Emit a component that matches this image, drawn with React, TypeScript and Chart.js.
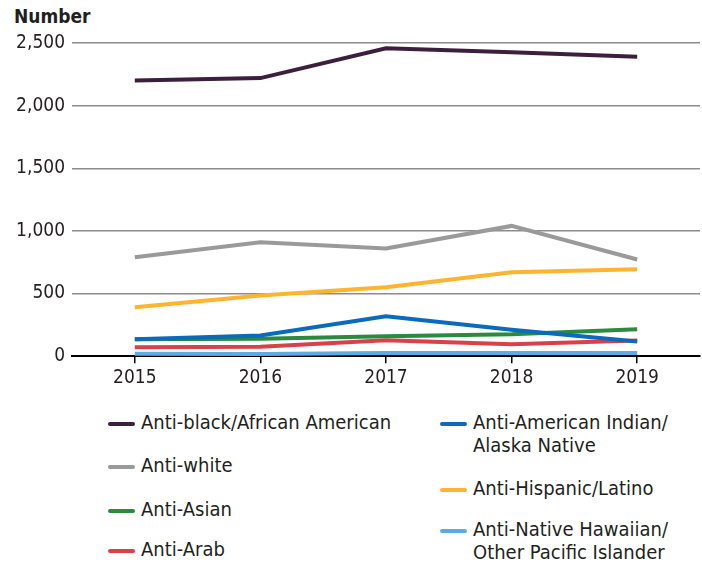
import React, { useEffect, useRef } from "react";
import { Chart, registerables } from "chart.js";

Chart.register(...registerables);

const years = ["2015", "2016", "2017", "2018", "2019"];
const antiBlack = [2201, 2220, 2458, 2426, 2391];
const antiWhite = [790, 910, 860, 1040, 772];
const antiHispanic = [390, 485, 550, 670, 695];
const antiAmIndian = [135, 165, 318, 212, 118];
const antiAsian = [136, 140, 160, 175, 215];
const antiArab = [72, 75, 128, 96, 125];
const antiHawaiian = [20, 18, 26, 26, 26];
const yTicks = [0, 500, 1000, 1500, 2000, 2500];

const FONT = "'Liberation Sans Narrow', 'DejaVu Sans Condensed', 'Roboto Condensed', 'Liberation Sans', sans-serif";

const series = [
  { label: "Anti-black/African American", data: antiBlack, color: "#3c1f3c" },
  { label: "Anti-white", data: antiWhite, color: "#9a9a9a" },
  { label: "Anti-Hispanic/Latino", data: antiHispanic, color: "#fdb52f" },
  { label: "Anti-American Indian/\nAlaska Native", data: antiAmIndian, color: "#0a6bbd" },
  { label: "Anti-Asian", data: antiAsian, color: "#2a8a3e" },
  { label: "Anti-Arab", data: antiArab, color: "#d8414a" },
  { label: "Anti-Native Hawaiian/\nOther Pacific Islander", data: antiHawaiian, color: "#5aace2" },
];

const legendLeft = [0, 1, 4, 5];
const legendRight = [3, 2, 6];

function LegendItem({ idx, top, left }: { idx: number; top: number; left: number }) {
  const s = series[idx];
  return (
    <div style={{ position: "absolute", left, top, display: "flex", alignItems: "flex-start" }}>
      <div style={{ width: 27, height: 4, borderRadius: 2, background: s.color, marginTop: 11, marginRight: 6 }} />
      <div style={{ fontFamily: FONT, fontSize: 20, lineHeight: "23px", color: "#231f20", whiteSpace: "pre" }}>{s.label}</div>
    </div>
  );
}

export default function App() {
  const ref = useRef<HTMLCanvasElement | null>(null);
  useEffect(() => {
    document.body.style.margin = "0";
    const ctx = ref.current!;
    const chart = new Chart(ctx, {
      type: "line",
      data: {
        labels: years,
        datasets: series.map((s) => ({
          label: s.label,
          data: s.data,
          borderColor: s.color,
          backgroundColor: s.color,
          borderWidth: 4,
          pointRadius: 0,
          tension: 0,
          fill: false,
        })),
      },
      options: {
        animation: false,
        responsive: false,
        maintainAspectRatio: false,
        layout: { padding: { top: 43, right: 2, left: 0, bottom: 0 } },
        plugins: { legend: { display: false }, tooltip: { enabled: false } },
        scales: {
          x: {
            type: "category",
            offset: true,
            grid: {
              offset: false,
              drawOnChartArea: false,
              drawTicks: true,
              tickLength: 7,
              color: "#000",
              lineWidth: 1.5,
            },
            border: { display: true, color: "#000", width: 2 },
            ticks: { color: "#231f20", font: { family: FONT, size: 19 }, padding: 3 },
          },
          y: {
            min: 0,
            max: 2500,
            afterFit: (scale: any) => {
              scale.width = 72;
            },
            afterBuildTicks: (scale: any) => {
              scale.ticks = yTicks.map((v) => ({ value: v }));
            },
            grid: { drawTicks: false, color: "#8c8c8c", lineWidth: 1.5 },
            border: { display: false },
            ticks: {
              color: "#231f20",
              font: { family: FONT, size: 19 },
              padding: 7,
              callback: (v: any) => Number(v).toLocaleString("en-US"),
            },
          },
        },
      },
    });
    return () => chart.destroy();
  }, []);
  return (
    <div style={{ position: "relative", width: 702, height: 563, background: "#fff", overflow: "hidden" }}>
      <div style={{ position: "absolute", left: 14, top: 5, fontFamily: FONT, fontWeight: "bold", fontSize: 19, color: "#231f20" }}>Number</div>
      <canvas ref={ref} width={702} height={392} style={{ position: "absolute", left: 0, top: 0, width: 702, height: 392 }} />
      <LegendItem idx={legendLeft[0]} top={411} left={108} />
      <LegendItem idx={legendLeft[1]} top={454} left={108} />
      <LegendItem idx={legendLeft[2]} top={498} left={108} />
      <LegendItem idx={legendLeft[3]} top={538} left={108} />
      <LegendItem idx={legendRight[0]} top={411} left={440} />
      <LegendItem idx={legendRight[1]} top={477} left={440} />
      <LegendItem idx={legendRight[2]} top={518} left={440} />
    </div>
  );
}
